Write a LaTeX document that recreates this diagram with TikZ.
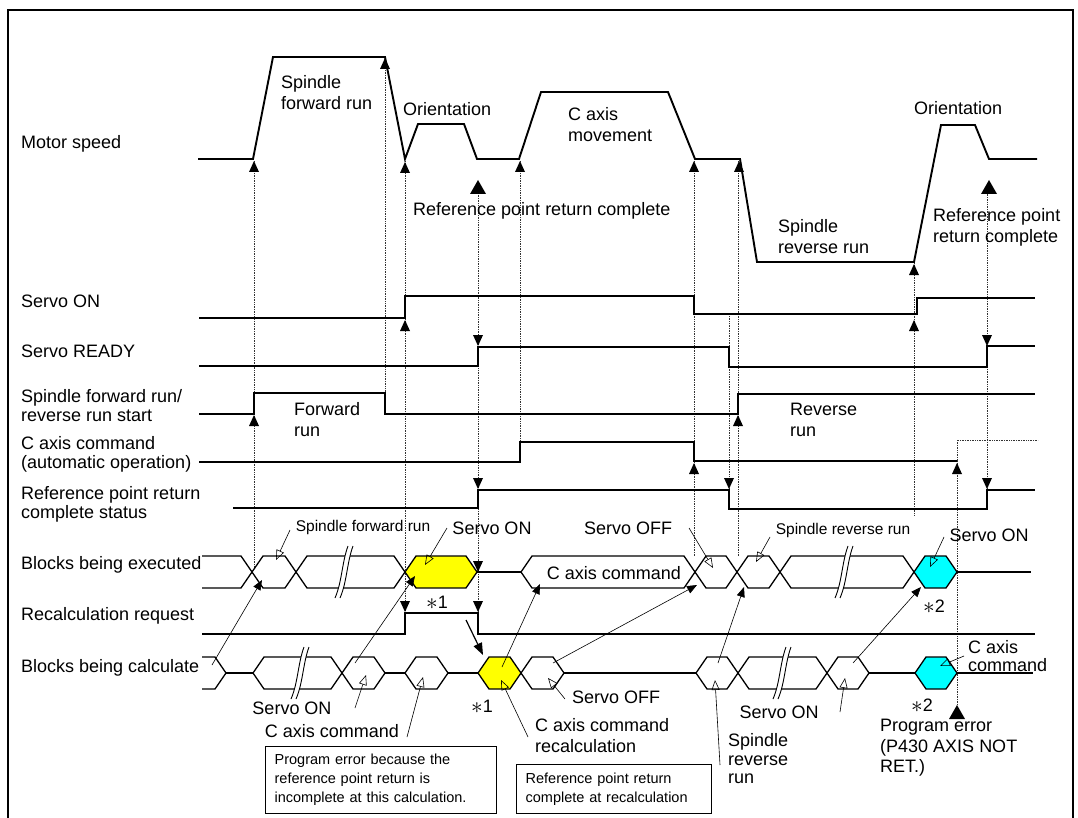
\documentclass[tikz,border=0pt]{standalone}
\usepackage{fontspec}
\setmainfont{Liberation Sans}
\usetikzlibrary{arrows.meta}
\definecolor{hiyel}{RGB}{255,255,0}
\definecolor{hicyan}{RGB}{0,255,255}
\tikzset{
	sig/.style={line width=1.4pt},
	motor/.style={line width=1.9pt},
	tick/.style={densely dotted, line width=0.7pt, black!80},
	lbl/.style={font=\fontsize{18}{21}\selectfont, inner sep=0pt, align=left, anchor=west},
	side/.style={lbl, font=\fontsize{18}{19}\selectfont},
	sml/.style={font=\fontsize{15.5}{18}\selectfont, inner sep=0pt},
	tag/.style={font=\fontsize{18}{21}\selectfont, inner sep=0pt},
	note/.style={draw, line width=1.3pt, font=\fontsize{14.5}{19}\selectfont, align=left, inner xsep=9pt, inner ysep=0pt, anchor=north west},
	ptr/.style={-{Triangle[open,length=10pt,width=8pt]}, line width=0.6pt},
	feed/.style={-{Triangle[length=10pt,width=8pt]}, line width=0.6pt},
	hexb/.style={line width=1.3pt}
}
\newcommand{\hexblk}[4][white]{%
	\filldraw[hexb, fill=#1] (#2,#4) -- (#2+11,#4-16) -- (#3-11,#4-16) -- (#3,#4) -- (#3-11,#4+16) -- (#2+11,#4+16) -- cycle;}
\newcommand{\brkmark}[2]{%
	\fill[white] (#1-10,#2+26) .. controls (#1-3,#2+10) and (#1-3,#2-10) .. (#1+3,#2-26) -- (#1+8,#2-26) .. controls (#1+2,#2-10) and (#1+2,#2+10) .. (#1-5,#2+26) -- cycle;
	\draw[line width=0.9pt] (#1-10,#2+26) .. controls (#1-3,#2+10) and (#1-3,#2-10) .. (#1+3,#2-26);
	\draw[line width=0.9pt] (#1-5,#2+26) .. controls (#1+2,#2+10) and (#1+2,#2-10) .. (#1+8,#2-26);}
\newcommand{\mkup}[2]{\fill (#1,#2) -- (#1-5,#2+11) -- (#1+5,#2+11) -- cycle;}
\newcommand{\mkdn}[2]{\fill (#1,#2) -- (#1-5,#2-11) -- (#1+5,#2-11) -- cycle;}
\newcommand{\mkbig}[2]{\fill (#1,#2) -- (#1-8,#2+14) -- (#1+8,#2+14) -- cycle;}
\newcommand{\astn}[1]{\raisebox{-1pt}{\scalebox{1.35}{$\ast$}}#1}

\begin{document}
\begin{tikzpicture}[x=1pt,y=-1pt]
	\useasboundingbox (0,0) rectangle (1078,818);
	\fill[white] (0,0) rectangle (1078,818);
	\draw[line width=1.8pt] (8,818) -- (8,10) -- (1073,10) -- (1073,818);

	% event lines
	\draw[tick] (254,161) -- (254,570);
	\draw[tick] (385,58) -- (385,414);
	\draw[tick] (405,161) -- (405,612);
	\draw[tick] (478,193) -- (478,612);
	\draw[tick] (520,161) -- (520,442);
	\draw[tick] (694,161) -- (694,557);
	\draw[tick] (729,316) -- (729,509);
	\draw[tick] (738,161) -- (738,557);
	\draw[tick] (914,263) -- (914,515);
	\draw[tick] (957,461) -- (957,705);
	\draw[tick] (987,192) -- (987,489);

	% motor speed
	\draw[motor] (198,159) -- (253,159) -- (273,57) -- (385,57) -- (405,159) -- (418,124) -- (464,124) -- (477,159)
		-- (519,159) -- (541,92) -- (668,92) -- (695,159) -- (740,159) -- (757,262) -- (914,262) -- (941,125)
		-- (975,125) -- (989,159) -- (1037,159);

	% signals
	\draw[sig] (199,318) -- (405,318) -- (405,296) -- (694,296) -- (694,314) -- (917,314) -- (917,298) -- (1035,298);
	\draw[sig] (199,366) -- (478,366) -- (478,347) -- (729,347) -- (729,367) -- (987,367) -- (987,346) -- (1035,346);
	\draw[sig] (199,414) -- (254,414) -- (254,393) -- (385,393) -- (385,414) -- (738,414) -- (738,394) -- (1035,394);
	\draw[sig] (199,462) -- (520,462) -- (520,442) -- (694,442) -- (694,461) -- (957,461);
	\draw[tick] (957,461) -- (957,440) -- (1038,440);
	\draw[sig] (233,508) -- (478,508) -- (478,490) -- (729,490) -- (729,509) -- (987,509) -- (987,490) -- (1035,490);
	\draw[sig] (202,634) -- (405,634) -- (405,613) -- (478,613) -- (478,634) -- (1035,634);

	% blocks being executed
	\draw[hexb] (202,556) -- (241,556) -- (252,572) -- (241,588) -- (202,588);
	\hexblk{252}{296}{572}
	\hexblk{296}{405}{572}
	\hexblk[hiyel]{405}{477}{572}
	\draw[hexb] (477,572) -- (521,572);
	\hexblk{521}{695}{572}
	\hexblk{695}{737}{572}
	\hexblk{737}{780}{572}
	\hexblk{780}{914}{572}
	\hexblk[hicyan]{914}{957}{572}
	\draw[hexb] (957,572) -- (1031,572);
	\brkmark{345}{572}
	\brkmark{845}{572}

	% blocks being calculated
	\draw[hexb] (202,657) -- (215,657) -- (226,673) -- (215,689) -- (202,689);
	\draw[hexb] (226,673) -- (253,673);
	\hexblk{253}{342}{673}
	\hexblk{342}{385}{673}
	\draw[hexb] (385,673) -- (405,673);
	\hexblk{405}{448}{673}
	\draw[hexb] (448,673) -- (478,673);
	\hexblk[hiyel]{478}{521}{673}
	\hexblk{521}{564}{673}
	\draw[hexb] (564,673) -- (696,673);
	\hexblk{696}{738}{673}
	\hexblk{738}{827}{673}
	\hexblk{827}{869}{673}
	\draw[hexb] (869,673) -- (915,673);
	\hexblk[hicyan]{915}{957}{673}
	\draw[hexb] (957,673) -- (1033,673);
	\brkmark{301}{673}
	\brkmark{783}{673}

	% markers
	\mkup{254}{161} \mkup{254}{415} \mkup{385}{58} \mkup{405}{162} \mkup{405}{320}
	\mkup{520}{161} \mkup{694}{161} \mkup{694}{463} \mkup{739}{161} \mkup{738}{415}
	\mkup{914}{264} \mkup{914}{320} \mkup{957}{463}
	\mkbig{478}{180} \mkbig{989}{180} \mkbig{957}{705}
	\mkdn{478}{346} \mkdn{478}{489} \mkdn{478}{572} \mkdn{478}{612} \mkdn{405}{612}
	\mkdn{729}{489} \mkdn{987}{346} \mkdn{987}{489}

	% row names
	\node[side] (lmot) at (21,144) {Motor speed};
	\node[side] (lson) at (21,301) {Servo ON};
	\node[side] (lrdy) at (21,351) {Servo READY};
	\node[side] (lspd) at (21,406) {Spindle forward run/\\reverse run start};
	\node[side] (lcax) at (21,454) {C axis command\\(automatic operation)};
	\node[side] (lref) at (21,504) {Reference point return\\complete status};
	\node[side] (lexe) at (21,565) {Blocks being executed};
	\node[side] (lreq) at (21,616) {Recalculation request};
	\node[side] (lcal) at (21,668) {Blocks being calculate};

	% motor speed texts
	\node[lbl] (fwdrun) at (281,93) {Spindle\\forward run};
	\node[lbl] (orient1) at (403,109) {Orientation};
	\node[lbl] (refdone1) at (413,211) {Reference point return complete};
	\node[lbl] (caxmove) at (568,125) {C axis\\movement};
	\node[lbl] (revrun) at (778,237) {Spindle\\reverse run};
	\node[lbl] (orient2) at (914,108) {Orientation};
	\node[lbl] (refdone2) at (933,227) {Reference point\\return complete};
	\node[lbl] (fwdlbl) at (294,420) {Forward\\run};
	\node[lbl] (revlbl) at (790,420) {Reverse\\run};

	% block texts
	\node[sml] (xsfr) at (363,527) {Spindle forward run};
	\node[tag] (xson1) at (492,528) {Servo ON};
	\node[tag] (xsoff) at (628,528) {Servo OFF};
	\node[sml] (xsrr) at (843,530) {Spindle reverse run};
	\node[tag] (xson2) at (989,535) {Servo ON};
	\node[tag] (xcax) at (614,573) {C axis command};
	\node[tag] (st1a) at (437,603) {\astn{1}};
	\node[tag] (st2a) at (934,607) {\astn{2}};
	\node[tag] (cson1) at (292,708) {Servo ON};
	\node[tag] (ccax) at (332,731) {C axis command};
	\node[tag] (st1b) at (482,707) {\astn{1}};
	\node[lbl] (crecal) at (535,736) {C axis command\\recalculation};
	\node[tag] (csoff) at (616,697) {Servo OFF};
	\node[lbl, font=\fontsize{18}{18.5}\selectfont] (csrr) at (728,759) {Spindle\\reverse\\run};
	\node[tag] (cson2) at (779,712) {Servo ON};
	\node[tag] (st2b) at (922,706) {\astn{2}};
	\node[lbl, font=\fontsize{18}{20.5}\selectfont] (perr) at (880,748) {Program error\\(P430 AXIS NOT\\RET.)};
	\node[lbl, font=\fontsize{18}{18.5}\selectfont] (ccax2) at (968,656) {C axis\\command};
	\node[note, minimum width=231pt, minimum height=67pt, text width=213pt] (box1) at (265,746)
		{Program error because the\\reference point return is\\incomplete at this calculation.};
	\node[note, minimum width=195pt, minimum height=49pt, text width=177pt] (box2) at (516,764)
		{Reference point return\\complete at recalculation};

	% pointer ends
	\coordinate (a1) at (290,530); \coordinate (b1) at (276,560);
	\coordinate (a2) at (447,528); \coordinate (b2) at (425,565);
	\coordinate (a3) at (689,528); \coordinate (b3) at (713,568);
	\coordinate (a4) at (770,537); \coordinate (b4) at (756,562);
	\coordinate (a5) at (944,537); \coordinate (b5) at (930,567);
	\coordinate (a6) at (355,708); \coordinate (b6) at (366,675);
	\coordinate (a7) at (407,737); \coordinate (b7) at (423,677);
	\coordinate (a8) at (528,737); \coordinate (b8) at (501,680);
	\coordinate (a9) at (565,699); \coordinate (b9) at (548,678);
	\coordinate (a10) at (720,765); \coordinate (b10) at (715,680);
	\coordinate (a11) at (840,712); \coordinate (b11) at (845,678);
	\coordinate (a12) at (964,656); \coordinate (b12) at (940,666);
	\foreach \i in {1,...,12}
		\draw[ptr] (a\i) -- (b\i);

	\coordinate (c1) at (212,665); \coordinate (e1) at (262,580);
	\coordinate (c2) at (355,663); \coordinate (e2) at (415,576);
	\coordinate (c3) at (502,667); \coordinate (e3) at (540,584);
	\coordinate (c4) at (553,663); \coordinate (e4) at (697,585);
	\coordinate (c5) at (718,663); \coordinate (e5) at (744,587);
	\coordinate (c6) at (853,663); \coordinate (e6) at (921,587);
	\foreach \i in {1,...,6}
		\draw[feed] (c\i) -- (e\i);
	\coordinate (rq) at (466,620); \coordinate (rc) at (483,655);
	\draw[-{Triangle[length=12pt,width=9pt]}, line width=1.2pt] (rq) -- (rc);
\end{tikzpicture}
\end{document}
